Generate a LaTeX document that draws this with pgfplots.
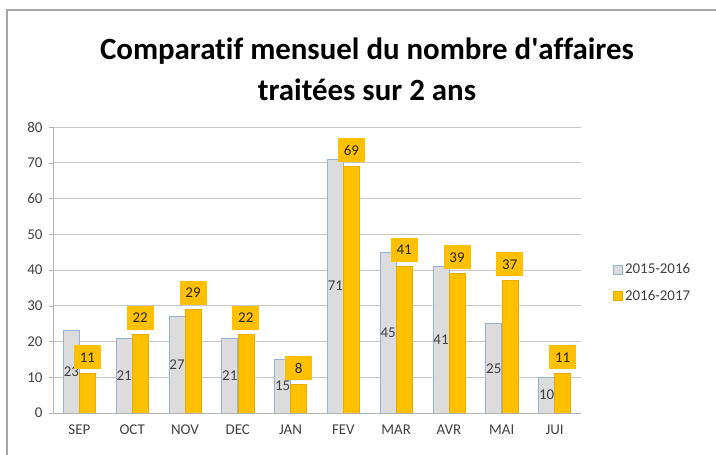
\documentclass[border=0pt]{standalone}
\usepackage{pgfplots}
\pgfplotsset{compat=1.18}
\usepackage{fontspec}
\setmainfont{Carlito}[Ligatures={NoCommon}]
\definecolor{grayfill}{HTML}{DCDCDC}
\definecolor{grayedge}{HTML}{95B3D7}
\definecolor{gold}{HTML}{FFC000}
\definecolor{goldedge}{HTML}{E8AC00}
\definecolor{txt}{HTML}{404040}
\begin{document}
\begin{tikzpicture}
\useasboundingbox (0,0) rectangle (716bp,455bp);
\draw[gray!70, line width=1.2bp] (7bp,0bp) -- (7bp,445bp) -- (716bp,445bp);
\node[font=\fontsize{31}{41}\selectfont\bfseries, align=center, text=black] at (367bp,386bp) {Comparatif mensuel du nombre d\textquotesingle affaires\\traitées sur 2 ans};
\begin{axis}[
  at={(53bp,42bp)}, anchor=south west,
  scale only axis, width=528bp, height=286bp,
  xmin=-0.5, xmax=9.5, ymin=0, ymax=80,
  ytick={0,10,...,80},
  xtick={0,...,9},
  xticklabels={SEP,OCT,NOV,DEC,JAN,FEV,MAR,AVR,MAI,JUI},
  x tick style={draw=none},
  y tick style={draw=gray!60},
  tick align=outside, major tick length=4bp,
  extra x ticks={0.5,1.5,...,8.5},
  extra x tick labels={},
  extra x tick style={grid=none, tick style={draw=gray!60}, major tick length=4bp, tick align=outside},
  ymajorgrids, grid style={gray!45, line width=0.8bp},
  axis x line*=bottom, axis y line*=left,
  axis line style={gray!60},
  /pgf/number format/assume math mode=true,
  tick label style={font=\fontsize{15}{17}\selectfont, text=txt},
  yticklabel style={xshift=-3bp},
  xticklabel style={yshift=-4bp},
  ybar=0pt, bar width=16bp,
  legend style={at={(1.055,0.455)}, anchor=west, draw=none, fill=none,
    font=\fontsize{15}{17}\selectfont, text=txt, row sep=11bp},
  legend cell align=left,
  legend image code/.code={\draw[#1] (0bp,-4.5bp) rectangle (9bp,4.5bp);},
]
\addplot[fill=grayfill, draw=grayedge, line width=0.8bp,
  visualization depends on={rawy \as \rawy},
  nodes near coords,
  every node near coord/.append style={anchor=center, yshift={-\rawy*1.7875bp}, text=txt, font=\fontsize{15}{17}\selectfont}]
  coordinates {(0,23) (1,21) (2,27) (3,21) (4,15) (5,71) (6,45) (7,41) (8,25) (9,10)};
\addplot[fill=gold, draw=goldedge, line width=0.6bp,
  nodes near coords,
  every node near coord/.append style={anchor=south, yshift=4bp, fill=gold, text=black!85, inner sep=2bp, minimum width=27bp, minimum height=24bp, font=\fontsize{15}{17}\selectfont}]
  coordinates {(0,11) (1,22) (2,29) (3,22) (4,8) (5,69) (6,41) (7,39) (8,37) (9,11)};
\legend{2015-2016,2016-2017}
\end{axis}
\end{tikzpicture}
\end{document}
